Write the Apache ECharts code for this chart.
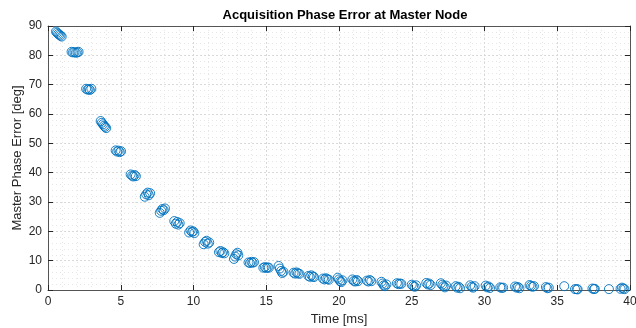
<!DOCTYPE html>
<html>
<head>
<meta charset="utf-8">
<script src="https://cdn.jsdelivr.net/npm/echarts@6/dist/echarts.min.js"></script>
<style>
    html, body {margin: 0; padding: 0; background: #fff;}
    #phaseChart {width: 636px; height: 328px;}
</style>
</head>
<body>
<div id="phaseChart"></div>
<script>
// acquisition samples
var timeMs = [
    0.55, 0.62, 0.70, 0.78, 0.86, 0.94,
    1.62, 1.72, 1.82, 1.92, 2.02, 2.10,
    2.62, 2.72, 2.80, 2.88, 2.98,
    3.62, 3.70, 3.78, 3.85, 3.92, 4.00,
    4.65, 4.75, 4.85, 4.93, 5.02,
    5.68, 5.78, 5.86, 5.95, 6.04,
    6.65, 6.75, 6.85, 6.93, 7.02,
    7.68, 7.78, 7.86, 7.95, 8.04,
    8.68, 8.78, 8.88, 8.96, 9.05,
    9.70, 9.80, 9.90, 9.98, 10.06,
    10.70, 10.80, 10.90, 10.98, 11.08,
    11.75, 11.85, 11.95, 12.03, 12.12,
    12.78, 12.86, 12.94, 13.02, 13.08,
    13.78, 13.88, 13.98, 14.06, 14.16,
    14.80, 14.90, 15.00, 15.10, 15.18,
    15.85, 15.93, 16.02, 16.10, 16.18,
    16.88, 16.98, 17.08, 17.18, 17.28,
    17.90, 18.00, 18.10, 18.20, 18.28,
    18.90, 19.00, 19.10, 19.20, 19.30,
    19.92, 20.00, 20.08, 20.16, 20.24,
    20.92, 21.02, 21.12, 21.22, 21.30,
    21.92, 22.02, 22.12, 22.22,
    22.92, 23.00, 23.08, 23.16, 23.26,
    23.98, 24.08, 24.18, 24.28,
    25.00, 25.10, 25.20, 25.30,
    26.00, 26.10, 26.20, 26.30,
    27.00, 27.10, 27.18, 27.28, 27.36,
    28.02, 28.12, 28.22, 28.32,
    29.02, 29.12, 29.22, 29.32,
    30.08, 30.18, 30.28, 30.38,
    31.08, 31.18, 31.28,
    32.10, 32.20, 32.30, 32.40,
    33.10, 33.20, 33.30, 33.40,
    34.22, 34.32, 34.42,
    35.48,
    36.22, 36.34, 36.40,
    37.42, 37.52, 37.58,
    38.55,
    39.35, 39.45, 39.55, 39.62
];
var phaseErrDeg = [
    88.1, 87.7, 87.3, 87.0, 86.7, 86.4,
    81.2, 81.0, 81.1, 80.9, 81.0, 81.2,
    68.6, 68.3, 68.5, 68.2, 68.6,
    57.6, 57.0, 56.5, 56.0, 55.6, 55.2,
    47.6, 47.2, 47.5, 47.0, 47.3,
    39.4, 39.0, 38.7, 39.2, 38.8,
    31.8, 32.6, 33.2, 32.3, 33.0,
    26.3, 27.0, 27.6, 27.2, 27.8,
    23.5, 22.6, 23.2, 22.3, 22.8,
    19.6, 20.3, 19.8, 20.0, 19.4,
    15.6, 16.4, 16.8, 15.8, 16.2,
    12.9, 13.3, 12.6, 12.9, 12.5,
    10.6, 11.4, 12.2, 12.7, 11.8,
    9.4, 9.2, 9.6, 9.3, 9.5,
    7.6, 7.8, 7.5, 7.7, 7.6,
    8.2, 7.3, 6.5, 5.8, 6.2,
    5.9, 5.6, 6.0, 5.7, 5.5,
    4.8, 4.5, 5.0, 4.6, 4.4,
    3.9, 3.6, 4.0, 3.7, 3.5,
    4.2, 3.6, 3.0, 2.7, 3.3,
    3.6, 3.1, 2.9, 3.4, 3.0,
    3.2, 2.9, 3.4, 3.0,
    2.8, 2.2, 1.6, 1.3, 1.9,
    2.3, 2.0, 2.2, 2.1,
    1.8, 1.4, 1.1, 1.6,
    2.4, 1.9, 2.2, 1.7,
    2.3, 1.8, 1.3, 0.9, 1.5,
    1.3, 0.8, 1.1, 0.6,
    1.6, 1.1, 0.8, 1.3,
    1.5, 0.9, 1.2, 0.7,
    0.9, 0.7, 0.8,
    1.2, 0.8, 1.0, 0.6,
    1.7, 1.4, 1.1, 1.3,
    1.0, 0.6, 0.8,
    1.3,
    0.3, 0.3, 0.2,
    0.5, 0.3, 0.4,
    0.3,
    0.4, 0.8, 0.5, 0.3
];
var xTicks = [0, 5, 10, 15, 20, 25, 30, 35, 40];
var yTicks = [0, 10, 20, 30, 40, 50, 60, 70, 80, 90];

var fontName = 'Liberation Sans';
var axisColor = '#555555';
var textColor = '#262626';

function mirrorAxis(base, pos) {
    // box-on style: axis on the opposite side, ticks only
    var ax = Object.assign({}, base);
    ax.position = pos;
    ax.axisLabel = {show: false};
    ax.splitLine = {show: false};
    ax.minorSplitLine = {show: false};
    ax.name = '';
    return ax;
}

var chart = echarts.init(document.getElementById('phaseChart'));

var points = timeMs.map(function (t, i) {
    return [t, phaseErrDeg[i]];
});

var xBase = {
    type: 'value',
    min: xTicks[0],
    max: xTicks[xTicks.length - 1],
    interval: xTicks[1] - xTicks[0],
    axisLine: {show: true, onZero: false, lineStyle: {color: axisColor, width: 1}},
    axisTick: {show: true, inside: true, length: 5, lineStyle: {color: '#262626'}},
    minorTick: {show: false, splitNumber: 5},
    axisLabel: {color: textColor, fontFamily: fontName, fontSize: 12, margin: 6},
    splitLine: {show: true, lineStyle: {color: '#d9d9d9', type: [2, 2], width: 1}},
    minorSplitLine: {show: true, lineStyle: {color: '#e6e6e6', type: [1, 3], width: 1}},
    name: 'Time [ms]',
    nameLocation: 'middle',
    nameGap: 23,
    nameMoveOverlap: false,
    nameTextStyle: {color: textColor, fontFamily: fontName, fontSize: 13}
};

var yBase = {
    type: 'value',
    min: yTicks[0],
    max: yTicks[yTicks.length - 1],
    interval: yTicks[1] - yTicks[0],
    axisLine: {show: true, onZero: false, lineStyle: {color: axisColor, width: 1}},
    axisTick: {show: true, inside: true, length: 5, lineStyle: {color: '#262626'}},
    minorTick: {show: false, splitNumber: 5},
    axisLabel: {color: textColor, fontFamily: fontName, fontSize: 12, margin: 6},
    splitLine: {show: true, lineStyle: {color: '#d9d9d9', type: [2, 2], width: 1}},
    minorSplitLine: {show: true, lineStyle: {color: '#e6e6e6', type: [1, 3], width: 1}},
    name: 'Master Phase Error [deg]',
    nameLocation: 'middle',
    nameGap: 24,
    nameMoveOverlap: false,
    nameTextStyle: {color: textColor, fontFamily: fontName, fontSize: 13}
};

var option = {
    backgroundColor: '#ffffff',
    animation: false,
    title: {
        text: 'Acquisition Phase Error at Master Node',
        left: 340,
        textAlign: 'center',
        top: 4,
        textStyle: {color: '#000', fontFamily: fontName, fontSize: 13, fontWeight: 'bold'}
    },
    grid: {left: 48, right: 6, top: 26, bottom: 38, outerBoundsMode: 'none'},
    xAxis: [xBase, mirrorAxis(xBase, 'top')],
    yAxis: [yBase, mirrorAxis(yBase, 'right')],
    series: [
        {
            name: 'phase error',
            type: 'scatter',
            symbol: 'circle',
            symbolSize: 9,
            clip: false,
            itemStyle: {color: 'rgba(255,255,255,0)', borderColor: '#0072BD', borderWidth: 0.9, opacity: 1},
            data: points
        }
    ]
};
chart.setOption(option);
</script>
</body>
</html>
